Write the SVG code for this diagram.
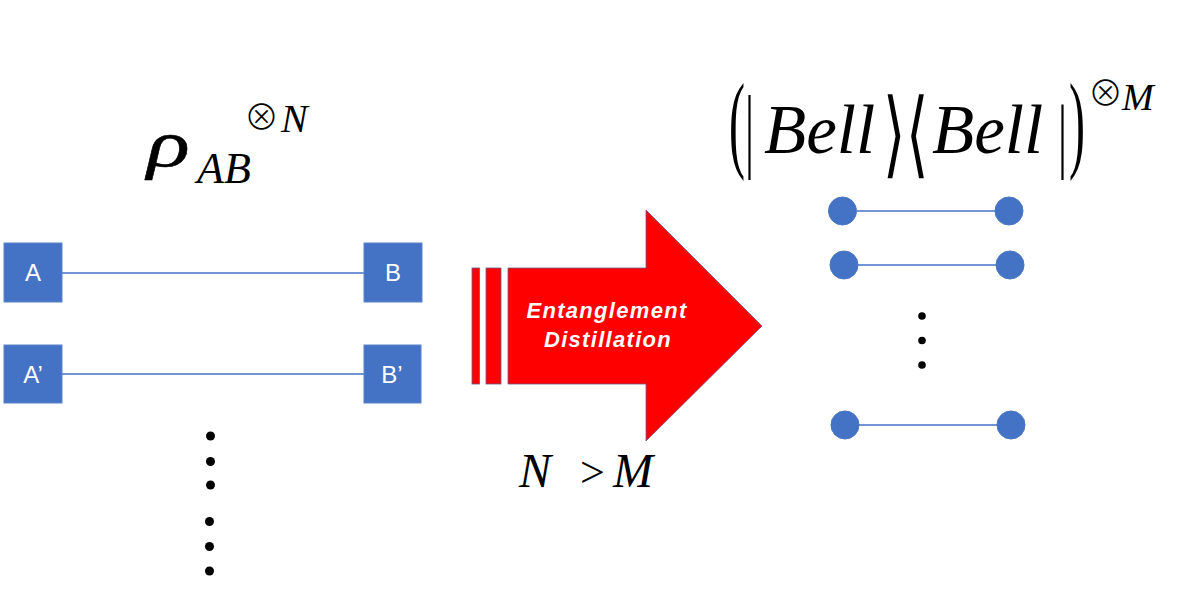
<svg xmlns="http://www.w3.org/2000/svg" width="1200" height="592" viewBox="0 0 1200 592">
<style>
.box{fill:#4472C4;stroke:#5b82c9;stroke-width:1}
.lbl{font-family:"Liberation Sans",Arial,sans-serif;font-size:24px;fill:#fff;text-anchor:middle}
.link{stroke:#4472C4;stroke-width:1.5}
.dot{fill:#4472C4;stroke:#4a76c2;stroke-width:1}
.blk{fill:#000}
.math{font-family:"Liberation Serif","Times New Roman",serif;fill:#000}
.it{font-style:italic}
.sym{font-family:"DejaVu Sans",sans-serif;fill:#000}
.otimes{font-family:"Noto Sans CJK JP","DejaVu Sans",sans-serif;font-weight:300;fill:#000}
.arrow{fill:#FF0000;stroke:#6a5a8a;stroke-width:0.8}
.atxt{font-family:"Liberation Sans",Arial,sans-serif;font-size:22px;font-weight:bold;font-style:italic;fill:#fff;text-anchor:middle;letter-spacing:1.3px}
</style>
<rect width="1200" height="592" fill="#fff"/>

<g id="connectors">
<line class="link" x1="62" y1="273" x2="364" y2="273"/>
<line class="link" x1="62" y1="374" x2="364" y2="374"/>
<line class="link" x1="857" y1="211" x2="995" y2="211"/>
<line class="link" x1="858" y1="265" x2="996" y2="265"/>
<line class="link" x1="859" y1="425" x2="997" y2="425"/>
</g>

<g id="node-A"><rect class="box" x="4" y="243" width="58" height="59"/><text class="lbl" x="33" y="281">A</text></g>
<g id="node-B"><rect class="box" x="364" y="243" width="58" height="59"/><text class="lbl" x="393" y="281">B</text></g>
<g id="node-A2"><rect class="box" x="4" y="345" width="58" height="58"/><text class="lbl" x="33" y="383">A’</text></g>
<g id="node-B2"><rect class="box" x="364" y="345" width="57" height="58"/><text class="lbl" x="392" y="383">B’</text></g>

<g id="left-dots">
<circle class="blk" cx="210.5" cy="436" r="4.5"/>
<circle class="blk" cx="210.5" cy="461.5" r="4.5"/>
<circle class="blk" cx="210.5" cy="485" r="4.5"/>
<circle class="blk" cx="209.5" cy="521.5" r="4.5"/>
<circle class="blk" cx="209.5" cy="546.5" r="4.5"/>
<circle class="blk" cx="209.5" cy="571" r="4.5"/>
</g>

<g id="rho-label">
<text class="math it" transform="translate(147,166) scale(1.35,1)" font-size="66" stroke="#000" stroke-width="0.5">ρ</text>
<text class="math it" x="197" y="183" font-size="44">AB</text>
<text class="otimes" x="244" y="130" font-size="35">⊗</text>
<text class="math it" x="281" y="132" font-size="40">N</text>
</g>

<g id="arrow">
<rect class="arrow" x="472" y="268" width="7.5" height="116"/>
<rect class="arrow" x="486" y="268" width="15" height="116"/>
<polygon class="arrow" points="508,268 646,268 646,210 762,326 646,441 646,384 508,384"/>
<text class="atxt" x="607" y="318">Entanglement</text>
<text class="atxt" x="608" y="347">Distillation</text>
</g>

<g id="n-gt-m">
<text class="math" y="487" font-size="48"><tspan class="it" x="519">N</tspan><tspan x="580" font-size="44">&gt;</tspan><tspan class="it" x="613">M</tspan></text>
</g>

<g id="bell-label">
<text class="math" transform="translate(729,158) scale(0.75,1.68)" font-size="64">(</text>
<text class="math" transform="translate(745,160) scale(0.7,1.45)" font-size="64">|</text>
<text class="math it" x="764" y="153" font-size="69">Bell</text>
<text class="sym" transform="translate(883,166) scale(1.25,2.05)" font-size="46">⟩</text>
<text class="sym" transform="translate(906,166) scale(1.25,2.05)" font-size="46">⟨</text>
<text class="math it" x="932" y="153" font-size="69">Bell</text>
<text class="math" transform="translate(1058,162) scale(0.7,1.3)" font-size="64">|</text>
<text class="math" transform="translate(1069,158) scale(0.75,1.68)" font-size="64">)</text>
<text class="otimes" x="1088" y="106" font-size="35">⊗</text>
<text class="math it" x="1122" y="110" font-size="38">M</text>
</g>

<g id="bell-pairs">
<circle class="dot" cx="842.5" cy="211" r="14"/>
<circle class="dot" cx="1009" cy="211" r="14"/>
<circle class="dot" cx="844" cy="265" r="14"/>
<circle class="dot" cx="1010" cy="265" r="14"/>
<circle class="dot" cx="845" cy="425" r="14"/>
<circle class="dot" cx="1011" cy="425" r="14"/>
</g>

<g id="right-dots">
<circle class="blk" cx="922" cy="316" r="3.8"/>
<circle class="blk" cx="922" cy="340.5" r="3.8"/>
<circle class="blk" cx="922" cy="365" r="3.8"/>
</g>
</svg>
